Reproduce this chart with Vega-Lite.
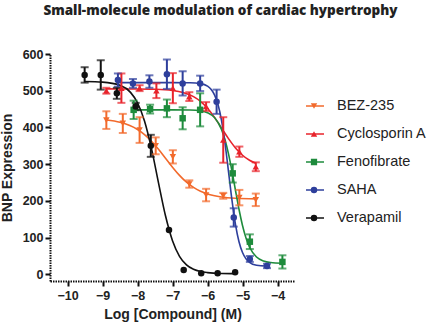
{
  "$schema": "https://vega.github.io/schema/vega-lite/v6.json",
  "width": 245,
  "height": 227,
  "autosize": {"type": "none"},
  "padding": {"left": 50, "top": 54, "right": 138, "bottom": 46},
  "background": "white",
  "title": {"text": "Small-molecule modulation of cardiac hypertrophy", "font": "Open Sans", "fontSize": 13.5, "fontWeight": 800, "color": "#222", "anchor": "middle", "dx": 48, "offset": 31},
  "datasets": {
    "curve": [
      {"series": "BEZ-235", "x": -8.89, "y": 420.3}, {"series": "BEZ-235", "x": -8.5, "y": 414.1}, {"series": "BEZ-235", "x": -8.0, "y": 394.5}, {"series": "BEZ-235", "x": -7.8, "y": 380.7}, {"series": "BEZ-235", "x": -7.6, "y": 362.6}, {"series": "BEZ-235", "x": -7.4, "y": 340.6}, {"series": "BEZ-235", "x": -7.2, "y": 316.2}, {"series": "BEZ-235", "x": -7.0, "y": 291.8}, {"series": "BEZ-235", "x": -6.8, "y": 269.5}, {"series": "BEZ-235", "x": -6.6, "y": 250.9}, {"series": "BEZ-235", "x": -6.4, "y": 236.7}, {"series": "BEZ-235", "x": -6.2, "y": 226.3}, {"series": "BEZ-235", "x": -6.0, "y": 219}, {"series": "BEZ-235", "x": -5.6, "y": 210.9}, {"series": "BEZ-235", "x": -5.2, "y": 207.4}, {"series": "BEZ-235", "x": -4.62, "y": 205.7},
      {"series": "Cyclosporin A", "x": -8.89, "y": 505}, {"series": "Cyclosporin A", "x": -8.0, "y": 504.7}, {"series": "Cyclosporin A", "x": -7.5, "y": 503.9}, {"series": "Cyclosporin A", "x": -7.0, "y": 500.6}, {"series": "Cyclosporin A", "x": -6.7, "y": 495.2}, {"series": "Cyclosporin A", "x": -6.4, "y": 484}, {"series": "Cyclosporin A", "x": -6.2, "y": 471.1}, {"series": "Cyclosporin A", "x": -6.0, "y": 452.3}, {"series": "Cyclosporin A", "x": -5.8, "y": 427.5}, {"series": "Cyclosporin A", "x": -5.6, "y": 398.8}, {"series": "Cyclosporin A", "x": -5.4, "y": 369.6}, {"series": "Cyclosporin A", "x": -5.2, "y": 344.1}, {"series": "Cyclosporin A", "x": -5.0, "y": 324.3}, {"series": "Cyclosporin A", "x": -4.8, "y": 310.6}, {"series": "Cyclosporin A", "x": -4.62, "y": 302.4},
      {"series": "Fenofibrate", "x": -8.11, "y": 448}, {"series": "Fenofibrate", "x": -7.0, "y": 448}, {"series": "Fenofibrate", "x": -6.5, "y": 447.4}, {"series": "Fenofibrate", "x": -6.2, "y": 445.1}, {"series": "Fenofibrate", "x": -6.0, "y": 440.1}, {"series": "Fenofibrate", "x": -5.8, "y": 427}, {"series": "Fenofibrate", "x": -5.6, "y": 394.8}, {"series": "Fenofibrate", "x": -5.5, "y": 366.6}, {"series": "Fenofibrate", "x": -5.4, "y": 328.1}, {"series": "Fenofibrate", "x": -5.3, "y": 280.8}, {"series": "Fenofibrate", "x": -5.2, "y": 228.4}, {"series": "Fenofibrate", "x": -5.1, "y": 177.3}, {"series": "Fenofibrate", "x": -5.0, "y": 133.2}, {"series": "Fenofibrate", "x": -4.9, "y": 99}, {"series": "Fenofibrate", "x": -4.8, "y": 74.5}, {"series": "Fenofibrate", "x": -4.6, "y": 47.3}, {"series": "Fenofibrate", "x": -4.4, "y": 36.5}, {"series": "Fenofibrate", "x": -4.2, "y": 32.4}, {"series": "Fenofibrate", "x": -3.86, "y": 30.5},
      {"series": "SAHA", "x": -8.56, "y": 522}, {"series": "SAHA", "x": -7.0, "y": 522}, {"series": "SAHA", "x": -6.5, "y": 521.6}, {"series": "SAHA", "x": -6.2, "y": 519.3}, {"series": "SAHA", "x": -6.0, "y": 512.4}, {"series": "SAHA", "x": -5.9, "y": 504}, {"series": "SAHA", "x": -5.8, "y": 488.8}, {"series": "SAHA", "x": -5.7, "y": 462.3}, {"series": "SAHA", "x": -5.6, "y": 419.5}, {"series": "SAHA", "x": -5.5, "y": 357}, {"series": "SAHA", "x": -5.4, "y": 280}, {"series": "SAHA", "x": -5.3, "y": 201.5}, {"series": "SAHA", "x": -5.2, "y": 135.6}, {"series": "SAHA", "x": -5.1, "y": 88.8}, {"series": "SAHA", "x": -5.0, "y": 59.4}, {"series": "SAHA", "x": -4.9, "y": 42.3}, {"series": "SAHA", "x": -4.8, "y": 32.9}, {"series": "SAHA", "x": -4.6, "y": 25}, {"series": "SAHA", "x": -4.3, "y": 22.5},
      {"series": "Verapamil", "x": -9.5, "y": 525}, {"series": "Verapamil", "x": -9.0, "y": 523.4}, {"series": "Verapamil", "x": -8.5, "y": 514.8}, {"series": "Verapamil", "x": -8.2, "y": 495.5}, {"series": "Verapamil", "x": -8.0, "y": 467.3}, {"series": "Verapamil", "x": -7.8, "y": 417.7}, {"series": "Verapamil", "x": -7.6, "y": 342.3}, {"series": "Verapamil", "x": -7.4, "y": 249.2}, {"series": "Verapamil", "x": -7.2, "y": 159.5}, {"series": "Verapamil", "x": -7.0, "y": 91.7}, {"series": "Verapamil", "x": -6.8, "y": 49.3}, {"series": "Verapamil", "x": -6.6, "y": 25.9}, {"series": "Verapamil", "x": -6.4, "y": 13.8}, {"series": "Verapamil", "x": -6.2, "y": 7.7}, {"series": "Verapamil", "x": -6.0, "y": 4.8}, {"series": "Verapamil", "x": -5.6, "y": 2.6}, {"series": "Verapamil", "x": -5.2, "y": 2.1}
    ],
    "pts": [
      {"series": "BEZ-235", "x": -8.89, "y": 420, "lo": 396, "hi": 444}, {"series": "BEZ-235", "x": -8.42, "y": 411, "lo": 385, "hi": 437}, {"series": "BEZ-235", "x": -7.94, "y": 393, "lo": 358, "hi": 428}, {"series": "BEZ-235", "x": -7.48, "y": 350, "lo": 327, "hi": 373}, {"series": "BEZ-235", "x": -6.99, "y": 320, "lo": 302, "hi": 338}, {"series": "BEZ-235", "x": -6.52, "y": 246, "lo": 236, "hi": 256}, {"series": "BEZ-235", "x": -6.04, "y": 216, "lo": 199, "hi": 233}, {"series": "BEZ-235", "x": -5.55, "y": 214, "lo": 206, "hi": 222}, {"series": "BEZ-235", "x": -5.09, "y": 209, "lo": 188, "hi": 230}, {"series": "BEZ-235", "x": -4.62, "y": 203, "lo": 186, "hi": 220},
      {"series": "Cyclosporin A", "x": -8.89, "y": 500, "lo": 492, "hi": 508}, {"series": "Cyclosporin A", "x": -8.46, "y": 507, "lo": 467, "hi": 547}, {"series": "Cyclosporin A", "x": -7.94, "y": 507, "lo": 499, "hi": 515}, {"series": "Cyclosporin A", "x": -7.46, "y": 500, "lo": 480, "hi": 520}, {"series": "Cyclosporin A", "x": -6.99, "y": 507, "lo": 466, "hi": 548}, {"series": "Cyclosporin A", "x": -6.52, "y": 484, "lo": 472, "hi": 496}, {"series": "Cyclosporin A", "x": -6.04, "y": 457, "lo": 445, "hi": 469}, {"series": "Cyclosporin A", "x": -5.55, "y": 366, "lo": 304, "hi": 428}, {"series": "Cyclosporin A", "x": -5.09, "y": 334, "lo": 320, "hi": 348}, {"series": "Cyclosporin A", "x": -4.62, "y": 293, "lo": 281, "hi": 305},
      {"series": "Fenofibrate", "x": -8.11, "y": 448, "lo": 423, "hi": 473}, {"series": "Fenofibrate", "x": -7.64, "y": 450, "lo": 438, "hi": 462}, {"series": "Fenofibrate", "x": -7.16, "y": 452, "lo": 428, "hi": 476}, {"series": "Fenofibrate", "x": -6.71, "y": 425, "lo": 395, "hi": 455}, {"series": "Fenofibrate", "x": -6.21, "y": 448, "lo": 403, "hi": 493}, {"series": "Fenofibrate", "x": -5.28, "y": 275, "lo": 250, "hi": 300}, {"series": "Fenofibrate", "x": -4.79, "y": 89, "lo": 69, "hi": 109}, {"series": "Fenofibrate", "x": -3.86, "y": 34, "lo": 16, "hi": 52},
      {"series": "SAHA", "x": -8.56, "y": 529, "lo": 511, "hi": 547}, {"series": "SAHA", "x": -8.13, "y": 520, "lo": 508, "hi": 532}, {"series": "SAHA", "x": -7.66, "y": 525, "lo": 508, "hi": 542}, {"series": "SAHA", "x": -7.16, "y": 545, "lo": 505, "hi": 585}, {"series": "SAHA", "x": -6.71, "y": 520, "lo": 487, "hi": 553}, {"series": "SAHA", "x": -6.21, "y": 520, "lo": 499, "hi": 541}, {"series": "SAHA", "x": -5.74, "y": 470, "lo": 437, "hi": 503}, {"series": "SAHA", "x": -5.25, "y": 155, "lo": 130, "hi": 180}, {"series": "SAHA", "x": -4.79, "y": 42, "lo": 34, "hi": 50}, {"series": "SAHA", "x": -4.3, "y": 23, "lo": 17, "hi": 29},
      {"series": "Verapamil", "x": -9.51, "y": 543, "lo": 522, "hi": 564}, {"series": "Verapamil", "x": -9.05, "y": 543, "lo": 503, "hi": 583}, {"series": "Verapamil", "x": -8.59, "y": 493, "lo": 478, "hi": 508}, {"series": "Verapamil", "x": -8.05, "y": 457, "lo": 447, "hi": 467}, {"series": "Verapamil", "x": -7.62, "y": 350, "lo": 320, "hi": 380}, {"series": "Verapamil", "x": -7.1, "y": 121, "lo": 121, "hi": 121}, {"series": "Verapamil", "x": -6.68, "y": 12, "lo": 12, "hi": 12}, {"series": "Verapamil", "x": -6.18, "y": 3, "lo": 3, "hi": 3}, {"series": "Verapamil", "x": -5.71, "y": 3, "lo": 3, "hi": 3}, {"series": "Verapamil", "x": -5.21, "y": 6, "lo": 6, "hi": 6}
    ]
  },
  "layer": [
    {
      "data": {"name": "curve"},
      "mark": {"type": "line", "strokeWidth": 1.6, "interpolate": "monotone"},
      "encoding": {
        "x": {"field": "x", "type": "quantitative", "title": "Log [Compound] (M)", "scale": {"domain": [-10.5, -3.5], "nice": false, "zero": false}, "axis": {"values": [-10, -9, -8, -7, -6, -5, -4], "labelOverlap": false}},
        "y": {"field": "y", "type": "quantitative", "title": "BNP Expression", "scale": {"domain": [-18, 600], "nice": false, "zero": false}, "axis": {"values": [0, 100, 200, 300, 400, 500, 600], "labelOverlap": false, "labelBound": false}},
        "stroke": {"field": "series", "type": "nominal", "scale": {"range": ["#F26A2C", "#E8232B", "#1E8B3C", "#2E3F9C", "#111111"]},
          "legend": {"orient": "none", "legendX": 255, "legendY": 44, "title": null, "symbolType": "stroke", "symbolSize": 324, "symbolStrokeWidth": 1.6, "labelOffset": 12, "clipHeight": 16, "rowPadding": 12, "padding": 0, "labelFont": "Liberation Sans", "labelFontSize": 14.5, "labelColor": "#222"}}
      }
    },
    {
      "data": {"name": "pts"},
      "transform": [{"filter": "datum.hi > datum.lo"}],
      "mark": {"type": "errorbar", "ticks": true, "size": 8, "thickness": 2},
      "encoding": {
        "x": {"field": "x", "type": "quantitative", "title": "Log [Compound] (M)", "axis": {"values": [-10, -9, -8, -7, -6, -5, -4], "labelOverlap": false}},
        "y": {"field": "lo", "type": "quantitative", "title": "BNP Expression", "axis": {"values": [0, 100, 200, 300, 400, 500, 600], "labelOverlap": false, "labelBound": false}},
        "y2": {"field": "hi"},
        "color": {"field": "series", "type": "nominal", "legend": null, "scale": {"range": ["#F26A2C", "#E8232B", "#1E8B3C", "#2E3F9C", "#111111"]}}
      }
    },
    {
      "data": {"name": "pts"},
      "mark": {"type": "point", "filled": true, "size": 42, "opacity": 1},
      "encoding": {
        "x": {"field": "x", "type": "quantitative", "title": "Log [Compound] (M)", "axis": {"values": [-10, -9, -8, -7, -6, -5, -4], "labelOverlap": false}},
        "y": {"field": "y", "type": "quantitative", "title": "BNP Expression", "axis": {"values": [0, 100, 200, 300, 400, 500, 600], "labelOverlap": false, "labelBound": false}},
        "fill": {"field": "series", "type": "nominal", "scale": {"range": ["#F26A2C", "#E8232B", "#1E8B3C", "#2E3F9C", "#111111"]},
          "legend": {"orient": "none", "legendX": 260.5, "legendY": 44, "title": null, "symbolSize": 42, "symbolStrokeWidth": 0, "labelExpr": "''", "labelOffset": 0, "clipHeight": 16, "rowPadding": 12, "padding": 0, "labelFontSize": 1}},
        "shape": {"field": "series", "type": "nominal", "scale": {"range": ["triangle-down", "triangle-up", "square", "circle", "circle"]}}
      }
    }
  ],
  "config": {
    "view": {"stroke": null},
    "axis": {
      "grid": false,
      "labelOverlap": false,
      "domainColor": "#111",
      "domainWidth": 2,
      "domainDash": [1.5, 1],
      "tickColor": "#111",
      "tickWidth": 2,
      "tickSize": 5,
      "labelFont": "Liberation Sans",
      "labelFontWeight": "bold",
      "labelFontSize": 12.5,
      "labelColor": "#222",
      "titleFont": "Liberation Sans",
      "titleFontWeight": "bold",
      "titleFontSize": 14,
      "titleColor": "#222"
    },
    "axisX": {"labelPadding": 3, "titlePadding": 6},
    "axisY": {"labelPadding": 2, "titlePadding": 8}
  }
}
